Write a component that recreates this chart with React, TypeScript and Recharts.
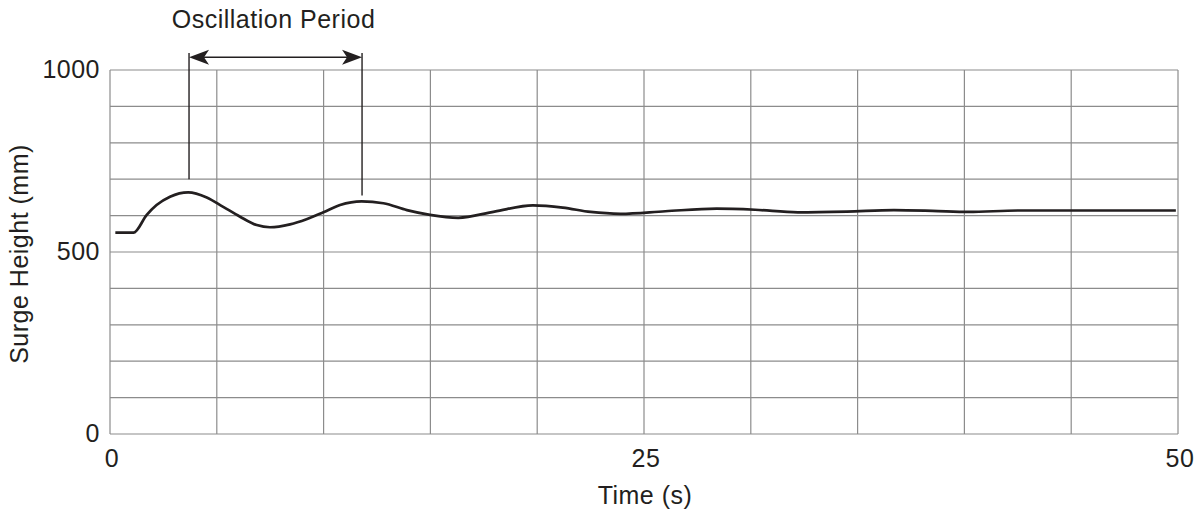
import React from 'react';
import { LineChart, Line, XAxis, YAxis, CartesianGrid, ReferenceLine } from 'recharts';

const timeValues = [0.25, 1.1, 1.72, 2.18, 2.81, 3.66, 4.53, 5.3, 6.09, 6.87, 7.49, 8.43, 9.2, 9.99, 10.77, 11.78, 12.8, 13.9, 14.98, 16.3, 18.0, 19.8, 21.2, 22.5, 23.9, 26.0, 28.4, 30.2, 32.2, 34.5, 36.7, 38.5, 40.2, 42.5, 49.9];
const heightValues = [553, 553, 602, 629, 652, 664, 650, 624, 597, 574, 568, 576, 590, 609, 629, 639, 634, 615, 602, 594, 611, 628, 622, 610, 605, 612, 619, 616, 609, 611, 615, 613, 610, 614, 614];

const xGridTicks = [0, 5, 10, 15, 20, 25, 30, 35, 40, 45, 50];
const xLabelTicks = [0, 25, 50];
const yGridTicks = [0, 100, 200, 300, 400, 500, 600, 700, 800, 900, 1000];
const yLabelTicks = [0, 500, 1000];

const periodStart = 3.7;
const periodEnd = 11.8;
const periodStartBottom = 700;
const periodEndBottom = 655;
const markerTop = 1047;
const arrowLevel = 1035;
const annotationText = 'Oscillation Period';

const data = timeValues.map((t, i) => ({ t, h: heightValues[i] }));

const FONT = '"Liberation Sans", Arial, sans-serif';
const TEXT = '#231f20';
const GRID = '#8c8c8c';
const FS = 25;
const LS = 0.5;

const XTick = (props: any) => {
  const { x, y, payload } = props;
  if (!xLabelTicks.includes(payload.value)) return null;
  return (
    <text x={x + 2} y={y} dy="0.71em" textAnchor="middle" fontSize={FS} fill={TEXT} fontFamily={FONT} letterSpacing={LS}>
      {payload.value}
    </text>
  );
};

const YTick = (props: any) => {
  const { x, y, payload } = props;
  if (!yLabelTicks.includes(payload.value)) return null;
  return (
    <text x={x} y={y - 1} dy="0.355em" textAnchor="end" fontSize={FS} fill={TEXT} fontFamily={FONT} letterSpacing={LS}>
      {payload.value}
    </text>
  );
};

const ArrowShape = (props: any) => {
  const { x1, y1, x2, y2 } = props;
  const xl = Math.min(x1, x2);
  const xr = Math.max(x1, x2);
  const y = (y1 + y2) / 2;
  const len = 20;
  const half = 7.5;
  const notch = 15;
  return (
    <g>
      <line x1={xl + notch} y1={y} x2={xr - notch} y2={y} stroke={TEXT} strokeWidth={1.4} />
      <polygon points={`${xl},${y} ${xl + len},${y - half} ${xl + notch},${y} ${xl + len},${y + half}`} fill={TEXT} />
      <polygon points={`${xr},${y} ${xr - len},${y - half} ${xr - notch},${y} ${xr - len},${y + half}`} fill={TEXT} />
      <text x={(xl + xr) / 2 - 2} y={y - 29} textAnchor="middle" fontSize={FS} fill={TEXT} fontFamily={FONT} letterSpacing={LS}>
        {annotationText}
      </text>
    </g>
  );
};

export default function App() {
  return (
    <div style={{ position: 'absolute', left: 0, top: 0, width: 1203, height: 512, background: '#fff' }}>
      <LineChart width={1203} height={512} data={data} margin={{ top: 70, right: 25, bottom: 18, left: 0 }}>
        <CartesianGrid stroke={GRID} strokeWidth={1.2} horizontal vertical />
        <XAxis
          dataKey="t"
          type="number"
          domain={[0, 50]}
          ticks={xGridTicks}
          interval={0}
          tickLine={false}
          axisLine={false}
          height={60}
          tickSize={0}
          tickMargin={15}
          tick={<XTick />}
          label={{
            content: () => (
              <text x={645} y={504} textAnchor="middle" fontSize={FS} fill={TEXT} fontFamily={FONT} letterSpacing={LS}>
                Time (s)
              </text>
            ),
          }}
        />
        <YAxis
          type="number"
          domain={[0, 1000]}
          ticks={yGridTicks}
          interval={0}
          tickLine={false}
          axisLine={false}
          width={110}
          tickSize={0}
          tickMargin={10}
          tick={<YTick />}
          label={{
            content: () => (
              <text transform="translate(28,254) rotate(-90)" textAnchor="middle" fontSize={FS} fill={TEXT} fontFamily={FONT} letterSpacing={LS}>
                Surge Height (mm)
              </text>
            ),
          }}
        />
        <Line
          type="monotone"
          dataKey="h"
          stroke={TEXT}
          strokeWidth={2.7}
          dot={false}
          activeDot={false}
          isAnimationActive={false}
        />
        <ReferenceLine
          segment={[{ x: periodStart, y: periodStartBottom }, { x: periodStart, y: markerTop }]}
          stroke={TEXT}
          strokeWidth={1.4}
          ifOverflow="visible"
        />
        <ReferenceLine
          segment={[{ x: periodEnd, y: periodEndBottom }, { x: periodEnd, y: markerTop }]}
          stroke={TEXT}
          strokeWidth={1.4}
          ifOverflow="visible"
        />
        <ReferenceLine
          segment={[{ x: periodStart, y: arrowLevel }, { x: periodEnd, y: arrowLevel }]}
          ifOverflow="visible"
          shape={<ArrowShape />}
        />
      </LineChart>
    </div>
  );
}
